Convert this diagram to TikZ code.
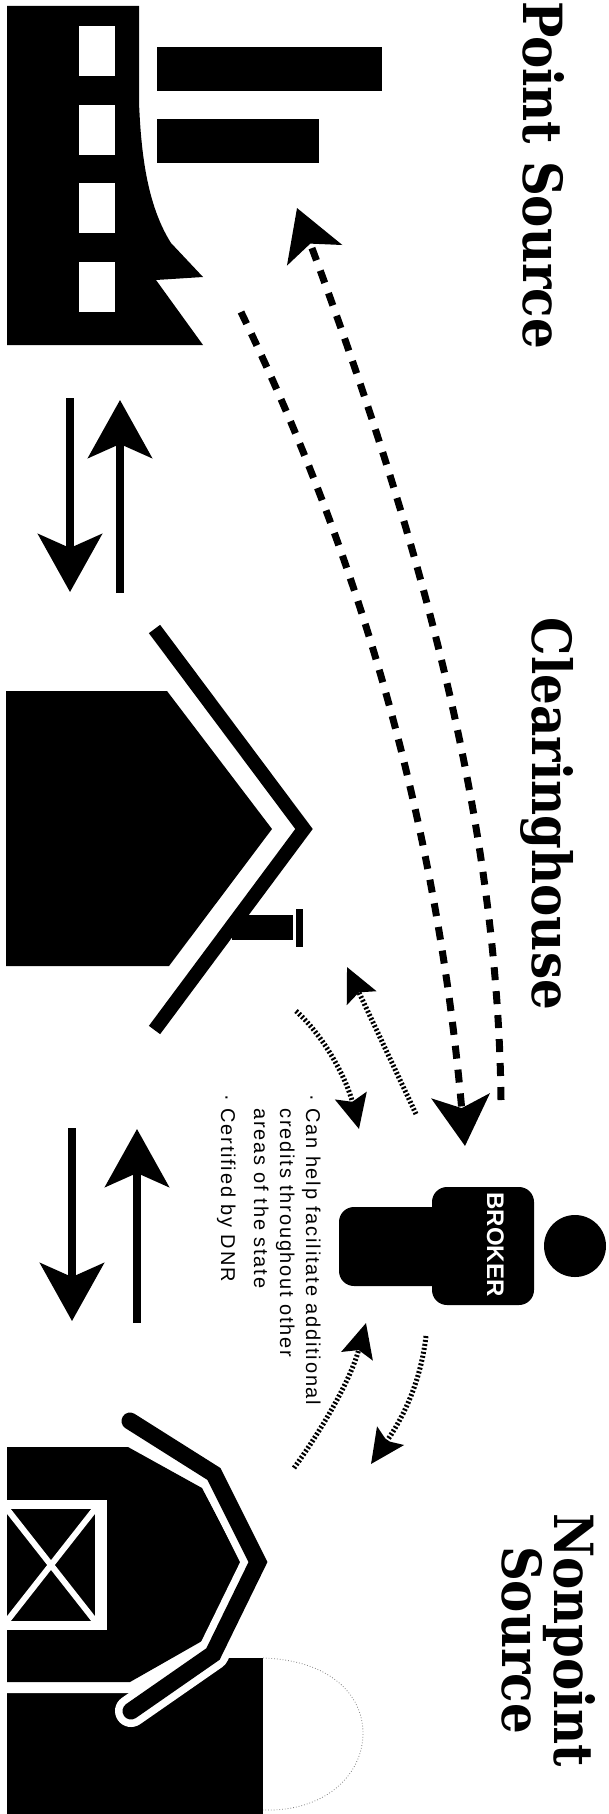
\documentclass[tikz,border=0pt]{standalone}
\usepackage{fontspec}
\usetikzlibrary{arrows.meta}
\setmainfont{Liberation Sans}
\newfontfamily\titlefont[FakeStretch=0.895]{DejaVu Serif Bold}
\newfontfamily\notefont[LetterSpace=9]{Liberation Sans}

\begin{document}
\begin{tikzpicture}[
    x=0.5pt, y=-0.5pt,
    ink/.style      = {fill=black, draw=none},
    blank/.style    = {fill=white, draw=none},
    title/.style    = {rotate=-90, anchor=base, inner sep=0pt, font=\titlefont\fontsize{27}{26}\selectfont},
    bigarrow/.style = {-{Stealth[length=29pt,width=32pt,inset=7pt]}, line width=3.75pt},
    dasharrow/.style= {-{Stealth[length=25pt,width=29pt,inset=6pt]}, line width=3.5pt, dash pattern=on 6.5pt off 5.5pt},
    dotarrow/.style = {-{Stealth[length=17pt,width=16pt,inset=3pt]}, line width=2.5pt, dash pattern=on 1pt off 1pt},
]

\useasboundingbox (0,0) rectangle (609,1814);

% factory
\fill[ink] (7,6) -- (139,6) -- (139,102) .. controls (141,153) and (147,205) .. (171,243)
    -- (203,277) -- (156,280) -- (203,345) -- (7,345) -- cycle;
\foreach \y in {26,105,183,262}
    \fill[blank] (79,\y) rectangle (115,\y+50);
\fill[ink] (157,47) rectangle (382,91);
\fill[ink] (157,119) rectangle (319,163);

% clearinghouse
\fill[ink] (6,691) -- (167,691) -- (272,829) -- (169,966) -- (6,966) -- cycle;
\draw[line width=7pt, miter limit=10] (154.5,629) -- (304,829) -- (154.5,1030);
\fill[ink] (232,915) rectangle (293,940);
\fill[ink] (296,909) rectangle (303,947);

% barn and silo
\fill[ink] (7,1658) rectangle (263,1814);
\draw[gray, line width=0.4pt, densely dotted] (263,1658) .. controls (330,1660) and (363,1695) .. (363,1733)
    .. controls (363,1775) and (325,1812) .. (263,1810);
\filldraw[fill=white, draw=white, line width=11pt] (7,1447) -- (128,1447) -- (202,1488) -- (241,1562)
    -- (202,1641) -- (130,1682) -- (7,1682) -- cycle;
\fill[ink] (7,1447) -- (128,1447) -- (202,1488) -- (241,1562) -- (202,1641) -- (130,1682) -- (7,1682) -- cycle;
\draw[white, line width=16pt, line cap=round, line join=round] (130,1421) -- (214,1474) -- (258,1562) -- (213,1654) -- (131,1711);
\draw[line width=8.5pt, line cap=round, miter limit=10] (130,1421) -- (214,1474) -- (258,1562) -- (213,1654) -- (131,1711);
\fill[blank] (7,1500) rectangle (107,1630);
\fill[ink] (7,1509) rectangle (95,1621);
\draw[white, line width=3pt] (7,1509) -- (95,1621) (7,1621) -- (95,1509);

% broker
\fill[ink] (575,1246) circle[radius=31];
\fill[ink, rounded corners=7.5pt] (432,1187) rectangle (534,1305);
\fill[ink, rounded corners=7.5pt] (339,1207) rectangle (450,1286);
\node[title, font=\bfseries\fontsize{12}{13}\selectfont, text=white] (brokertag) at (487,1244.5) {BROKER};

% labels
\node[title] (pointlabel) at (523,175) {Point Source};
\node[title] (clearlabel) at (532,814) {Clearinghouse};
\node[title, anchor=center, align=center] (nonpointlabel) at (549,1640) {Nonpoint\\Source};
\node[rotate=-90, anchor=north west, inner sep=0pt, align=left, font=\notefont\fontsize{10}{13}\selectfont] (notes) at (321,1094)
    {· Can help facilitate additional\\
     \hphantom{· }credits throughout other\\
     \hphantom{· }areas of the state\\[3.5pt]
     · Certified by DNR};

% end points
\coordinate (outA) at (70,398);    \coordinate (inA)  at (70,592);
\coordinate (outB) at (120,593);   \coordinate (inB)  at (120,400);
\coordinate (outC) at (137,1323);  \coordinate (inC)  at (137,1129);
\coordinate (outD) at (72,1128);   \coordinate (inD)  at (72,1321);
\coordinate (fromsource) at (241,312);  \coordinate (tobroker) at (465,1146);
\coordinate (frombroker) at (501,1100); \coordinate (tosource) at (297,208);
\coordinate (fromhouse) at (296,1011);  \coordinate (tohouse)  at (347,967);
\coordinate (houseback) at (416,1114);  \coordinate (housein)  at (359,1129);
\coordinate (frombarn)  at (294,1468);  \coordinate (barnin)   at (366,1323);
\coordinate (barnback)  at (426,1336);  \coordinate (tobarn)   at (371,1464);

% connectors
\draw[bigarrow] (outA) -- (inA);
\draw[bigarrow] (outB) -- (inB);
\draw[bigarrow] (outC) -- (inC);
\draw[bigarrow] (outD) -- (inD);
\draw[dasharrow] (fromsource) .. controls (368,575) and (438,840) .. (tobroker);
\draw[dasharrow] (frombroker) .. controls (498,840) and (432,570) .. (tosource);
\draw[dotarrow] (houseback) -- (tohouse);
\draw[dotarrow] (fromhouse) .. controls (325,1037) and (347,1080) .. (housein);
\draw[dotarrow] (frombarn) .. controls (320,1432) and (350,1382) .. (barnin);
\draw[dotarrow] (barnback) .. controls (420,1387) and (400,1422) .. (tobarn);

\end{tikzpicture}
\end{document}
